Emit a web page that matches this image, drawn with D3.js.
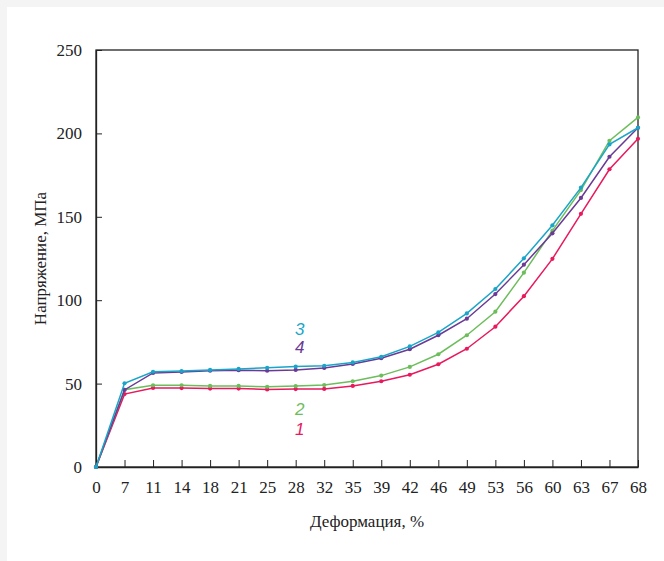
<!DOCTYPE html>
<html>
<head>
<meta charset="utf-8">
<script src="https://cdn.jsdelivr.net/npm/d3@7"></script>
<style>
  body { margin: 0; background: #f4f4f4; }
  svg { display: block; }
</style>
</head>
<body>
<script>
let width = 664;
let height = 561;
let margin = {"top":50,"bottom":94,"left":96,"right":26};

// strain, %
let strain = [0,7,11,14,18,21,25,28,32,35,39,42,46,49,53,56,60,63,67,68];
// stress, MPa
let series1 = [0,43.7,47.4,47.3,47,47,46.5,46.7,46.8,48.6,51.4,55.3,61.6,70.9,84.1,102.4,124.8,151.8,178.5,196.8];
let series2 = [0,46.3,49,49,48.6,48.6,48.1,48.5,49.1,51.4,54.8,60,67.6,79,93.1,116.5,141.7,166,195.6,209.6];
let series3 = [0,50.2,57.1,57.5,58.2,58.8,59.5,60.2,60.7,62.7,66.1,72.3,80.7,92.1,106.7,125.1,144.9,167.5,193.4,203.4];
let series4 = [0,46.2,56.4,57,57.7,58,57.7,58.2,59.4,61.8,65.2,70.6,79,88.9,103.7,121.3,140.1,161.3,186,203.4];
let yTicks = [0,50,100,150,200,250];
let seriesNames = ["1","2","3","4"];
let colors = ["#e8195c","#6dbd5c","#1aa5c8","#6a3a95"];

let svg = d3.select("body").append("svg").attr("width",width).attr("height",height);
svg.append("rect").attr("x",7).attr("y",7).attr("width",width-7).attr("height",height-7).attr("fill","#fff");

let x = d3.scalePoint().domain(strain).range([margin.left, width-margin.right]);
let y = d3.scaleLinear().domain([0,250]).range([height-margin.bottom, margin.top]);

let font = "'Liberation Serif', serif";

// frame
svg.append("rect").attr("x",margin.left).attr("y",margin.top)
  .attr("width",width-margin.right-margin.left).attr("height",height-margin.bottom-margin.top)
  .attr("fill","none").attr("stroke","#222").attr("stroke-width",1.3);

let xAxis = svg.append("g").attr("transform",`translate(0,${height-margin.bottom})`)
  .call(d3.axisBottom(x).tickSizeInner(-7).tickSizeOuter(0).tickPadding(14));
let yAxis = svg.append("g").attr("transform",`translate(${margin.left},0)`)
  .call(d3.axisLeft(y).tickValues(yTicks).tickSizeInner(-6).tickSizeOuter(0).tickPadding(14));
[xAxis,yAxis].forEach(a=>{
  a.select(".domain").attr("stroke","#222").attr("stroke-width",1.3);
  a.selectAll(".tick line").attr("stroke","#222").attr("stroke-width",1);
  a.selectAll(".tick text").attr("font-family",font).attr("font-size",17).attr("fill","#222");
});

let line = d3.line().x((d,i)=>x(strain[i])).y(d=>y(d));
let data = [series1,series2,series4,series3];
let dataColors = [colors[0],colors[1],colors[3],colors[2]];
data.forEach((s,k)=>{
  svg.append("path").datum(s).attr("d",line).attr("fill","none")
    .attr("stroke",dataColors[k]).attr("stroke-width",1.5);
  svg.append("g").selectAll("circle").data(s).join("circle")
    .attr("cx",(d,i)=>x(strain[i])).attr("cy",d=>y(d)).attr("r",2.1).attr("fill",dataColors[k]);
});

// curve labels (baseline positions in data units)
let labelPos = [[28,19.2],[28,31.2],[28,79.1],[28,68.3]];
seriesNames.forEach((n,k)=>{
  svg.append("text").attr("x",x(labelPos[k][0])+4).attr("y",y(labelPos[k][1]))
    .attr("text-anchor","middle").attr("font-family","'Liberation Sans', sans-serif")
    .attr("font-style","italic").attr("font-size",17).attr("fill",colors[k]).text(n);
});

svg.append("text").attr("x",(margin.left+width-margin.right)/2).attr("y",527)
  .attr("text-anchor","middle").attr("font-family",font).attr("font-size",17).attr("fill","#222")
  .text("Деформация, %");
svg.append("text").attr("transform",`translate(46,${(margin.top+height-margin.bottom)/2}) rotate(-90)`)
  .attr("text-anchor","middle").attr("font-family",font).attr("font-size",17).attr("fill","#222")
  .text("Напряжение, МПа");
</script>
</body>
</html>
